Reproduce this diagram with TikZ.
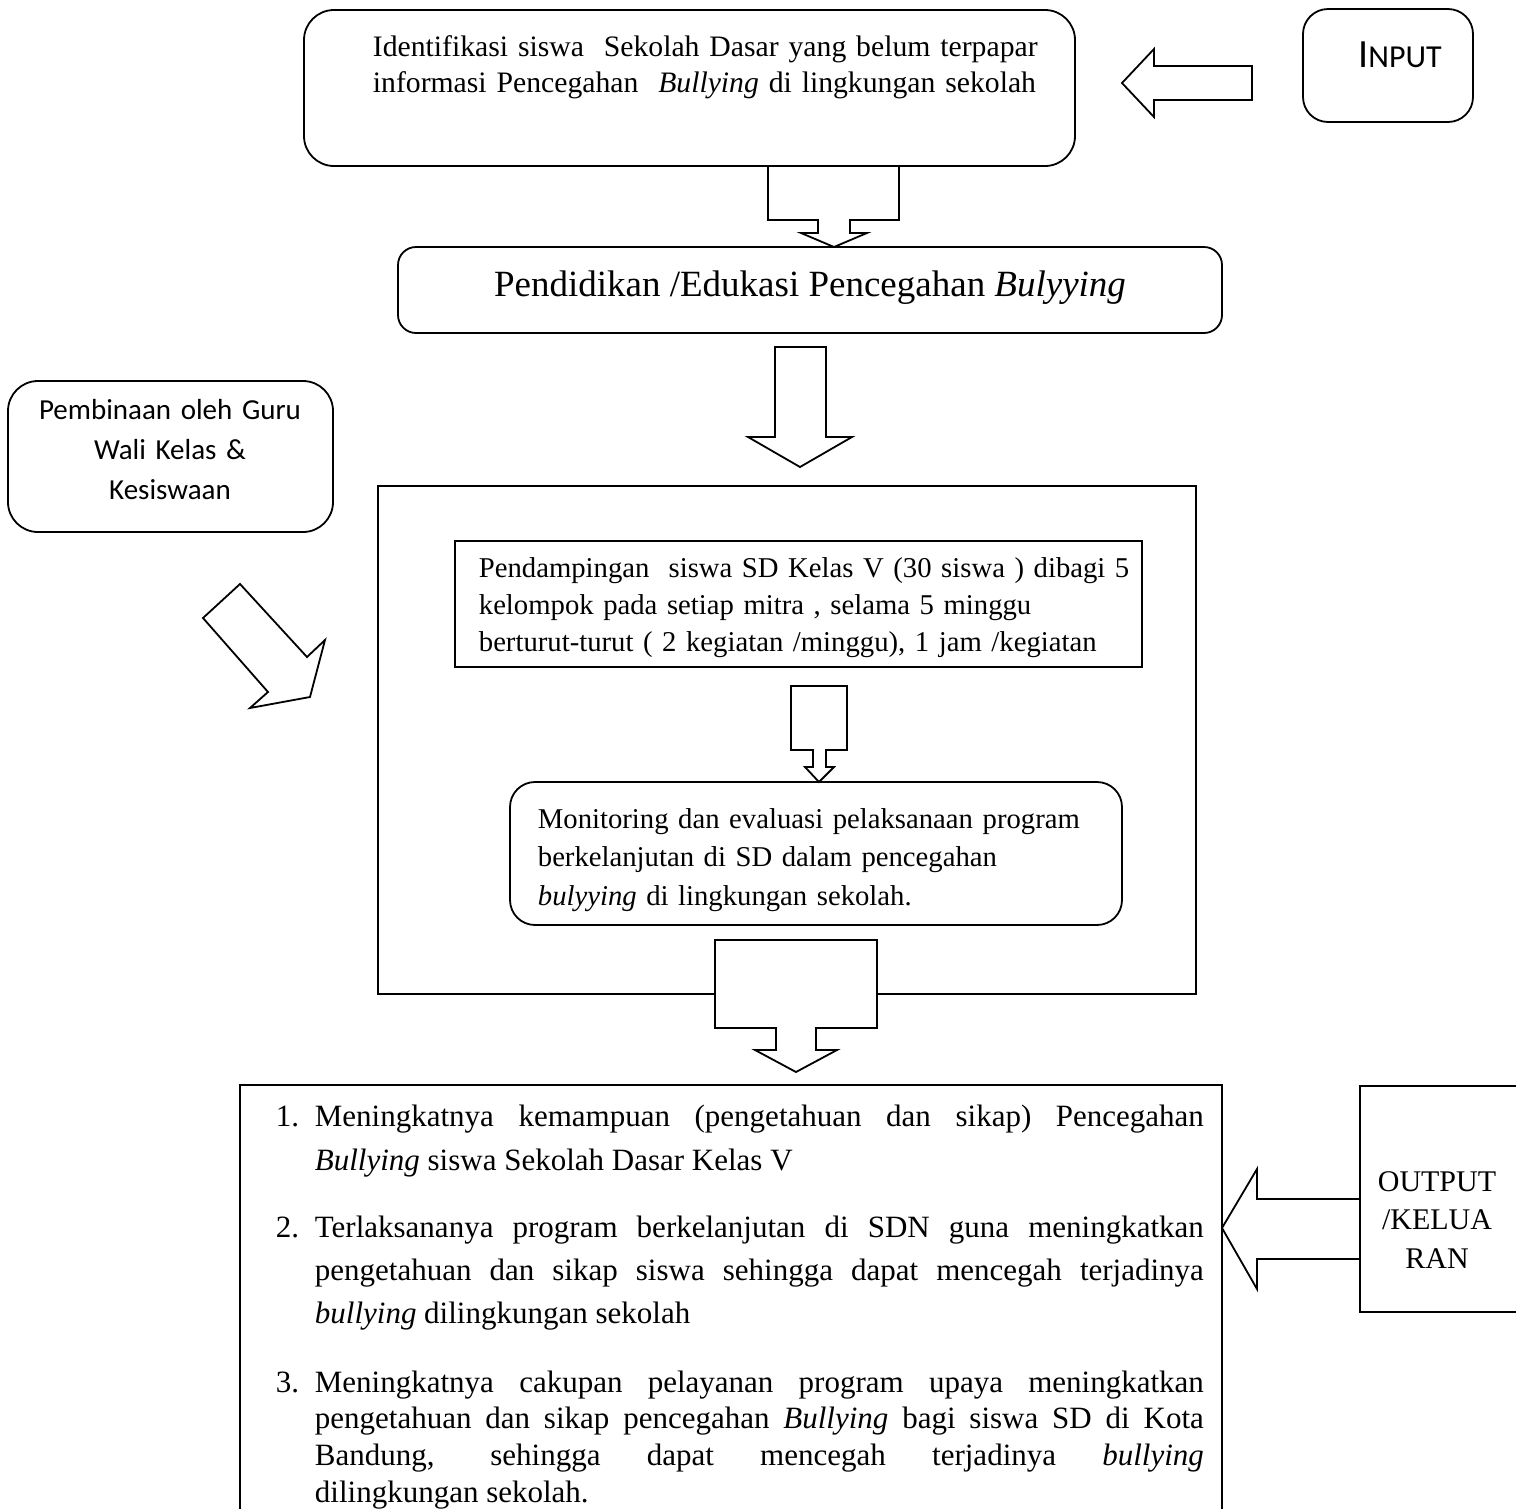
\documentclass[tikz,border=0pt]{standalone}
\usepackage{fontspec}
\setmainfont{Liberation Serif}
\newfontfamily\calibrifont{Carlito}
\begin{document}
\begin{tikzpicture}[x=1pt,y=-1pt,
  line width=1.8pt,
  rbox/.style={draw, inner sep=0pt, rounded corners=#1},
  sbox/.style={draw, inner sep=0pt},
  blockarrow/.style={draw, fill=white, line join=miter},
  txt/.style={inner sep=0pt, font=\fontsize{30}{36}\selectfont},
  listitem/.style={inner sep=0pt, anchor=base west, text width=928pt, align=justify,
     font=\fontsize{31}{44}\selectfont}
]
\clip (0,0) rectangle (1516,1508);
\fill[white] (0,0) rectangle (1516,1508);

% boxes
\node[rbox=30pt, minimum width=771pt, minimum height=156pt] (idbox) at (689.5,88) {};
\node[rbox=25pt, minimum width=170pt, minimum height=113pt] (inputbox) at (1388,65.5) {};
\node[rbox=18pt, minimum width=824pt, minimum height=86pt] (titlebox) at (810,290) {};
\node[rbox=30pt, minimum width=325pt, minimum height=151pt] (pembbox) at (170.5,456.5) {};
\node[sbox, minimum width=818pt, minimum height=508pt] (frame) at (787,740) {};
\node[sbox, minimum width=687pt, minimum height=126pt] (pendbox) at (798.5,604) {};
\node[rbox=25pt, minimum width=612pt, minimum height=143pt] (monbox) at (816,853.5) {};
\node[sbox, minimum width=982pt, minimum height=455pt] (resultbox) at (731,1312.5) {};
\node[sbox, minimum width=180pt, minimum height=226pt] (outbox) at (1450,1199) {};

% block arrows
\draw[blockarrow] (1122,83) -- (1154,49) -- (1154,66) -- (1252,66) -- (1252,100)
  -- (1154,100) -- (1154,117) -- cycle;
\draw[blockarrow] (768,166) -- (899,166) -- (899,220) -- (850,220) -- (850,233)
  -- (867,233) -- (834,247) -- (801,233) -- (818,233) -- (818,220) -- (768,220) -- cycle;
\draw[blockarrow] (775,347) -- (826,347) -- (826,437) -- (852,437) -- (800,467)
  -- (748,437) -- (775,437) -- cycle;
\draw[blockarrow] (203,618) -- (240,584) -- (307,657) -- (325,640) -- (310,697)
  -- (250,708) -- (268,692) -- cycle;
\draw[blockarrow] (791,686) -- (847,686) -- (847,750) -- (826,750) -- (826,767)
  -- (834,767) -- (819,782) -- (805,767) -- (813,767) -- (813,750) -- (791,750) -- cycle;
\draw[blockarrow] (715,940) -- (877,940) -- (877,1028) -- (816,1028) -- (816,1050)
  -- (837,1050) -- (796,1072) -- (755,1050) -- (776,1050) -- (776,1028) -- (715,1028) -- cycle;
\draw[blockarrow] (1222,1228) -- (1257,1169) -- (1257,1199) -- (1360,1199) -- (1360,1259)
  -- (1257,1259) -- (1257,1289) -- cycle;

% texts
\node[txt, anchor=base west, text width=720pt, align=left,
  font=\fontsize{29.7}{36}\selectfont] (idtext) at (372,56)
 {Identifikasi siswa\ \ Sekolah Dasar yang belum terpapar\\
  informasi Pencegahan\ \ \textit{Bullying} di lingkungan sekolah};
\node[inner sep=0pt, anchor=base, font=\calibrifont] (inputtext) at (1400,67)
 {\fontsize{40}{48}\selectfont I\fontsize{32}{38}\selectfont NPUT};
\node[inner sep=0pt, anchor=base, font=\fontsize{37}{44}\selectfont] (titletext) at (810,296)
 {Pendidikan /Edukasi Pencegahan \textit{Bulyying}};
\node[inner sep=0pt, anchor=base, text width=320pt, align=center,
  font=\calibrifont\fontsize{29}{40}\selectfont] (pembtext) at (170,419)
 {Pembinaan oleh Guru\\ Wali Kelas \&\\ Kesiswaan};
\node[txt, anchor=base west, text width=700pt, align=left,
  font=\fontsize{28.7}{37}\selectfont] (pendtext) at (478,577)
 {Pendampingan\ \ siswa SD Kelas V (30 siswa ) dibagi 5\\
  kelompok pada setiap mitra , selama 5 minggu\\
  berturut-turut ( 2 kegiatan /minggu), 1 jam /kegiatan};
\node[txt, anchor=base west, text width=620pt, align=left,
  font=\fontsize{28.7}{38.5}\selectfont] (montext) at (537,828)
 {Monitoring dan evaluasi pelaksanaan program\\
  berkelanjutan di SD dalam pencegahan\\
  \textit{bulyying} di lingkungan sekolah.};
\node[txt, anchor=base, text width=170pt, align=center,
  font=\fontsize{30}{38.5}\selectfont] (outtext) at (1437,1191)
 {OUTPUT\\ /KELUA\\ RAN};

\node[listitem] (item1) at (275,1126)
 {\hangindent=39pt\hangafter=1\tolerance=10000\hyphenpenalty=10000
  \makebox[39pt][l]{1.}Meningkatnya kemampuan (pengetahuan dan sikap) Pencegahan\linebreak
  \textit{Bullying} siswa Sekolah Dasar Kelas V\par};
\node[listitem, font=\fontsize{31}{43}\selectfont] (item2) at (275,1237)
 {\hangindent=39pt\hangafter=1\tolerance=10000\hyphenpenalty=10000
  \makebox[39pt][l]{2.}Terlaksananya program berkelanjutan di SDN guna meningkatkan\linebreak
  pengetahuan dan sikap siswa sehingga dapat mencegah terjadinya\linebreak
  \textit{bullying} dilingkungan sekolah\par};
\node[listitem, font=\fontsize{31}{36.8}\selectfont] (item3) at (275,1392)
 {\hangindent=39pt\hangafter=1\tolerance=10000\hyphenpenalty=10000
  \makebox[39pt][l]{3.}Meningkatnya cakupan pelayanan program upaya meningkatkan\linebreak
  pengetahuan dan sikap pencegahan \textit{Bullying} bagi siswa SD di Kota\linebreak
  Bandung, sehingga dapat mencegah terjadinya \textit{bullying}\linebreak
  dilingkungan sekolah.\par};
\end{tikzpicture}
\end{document}
